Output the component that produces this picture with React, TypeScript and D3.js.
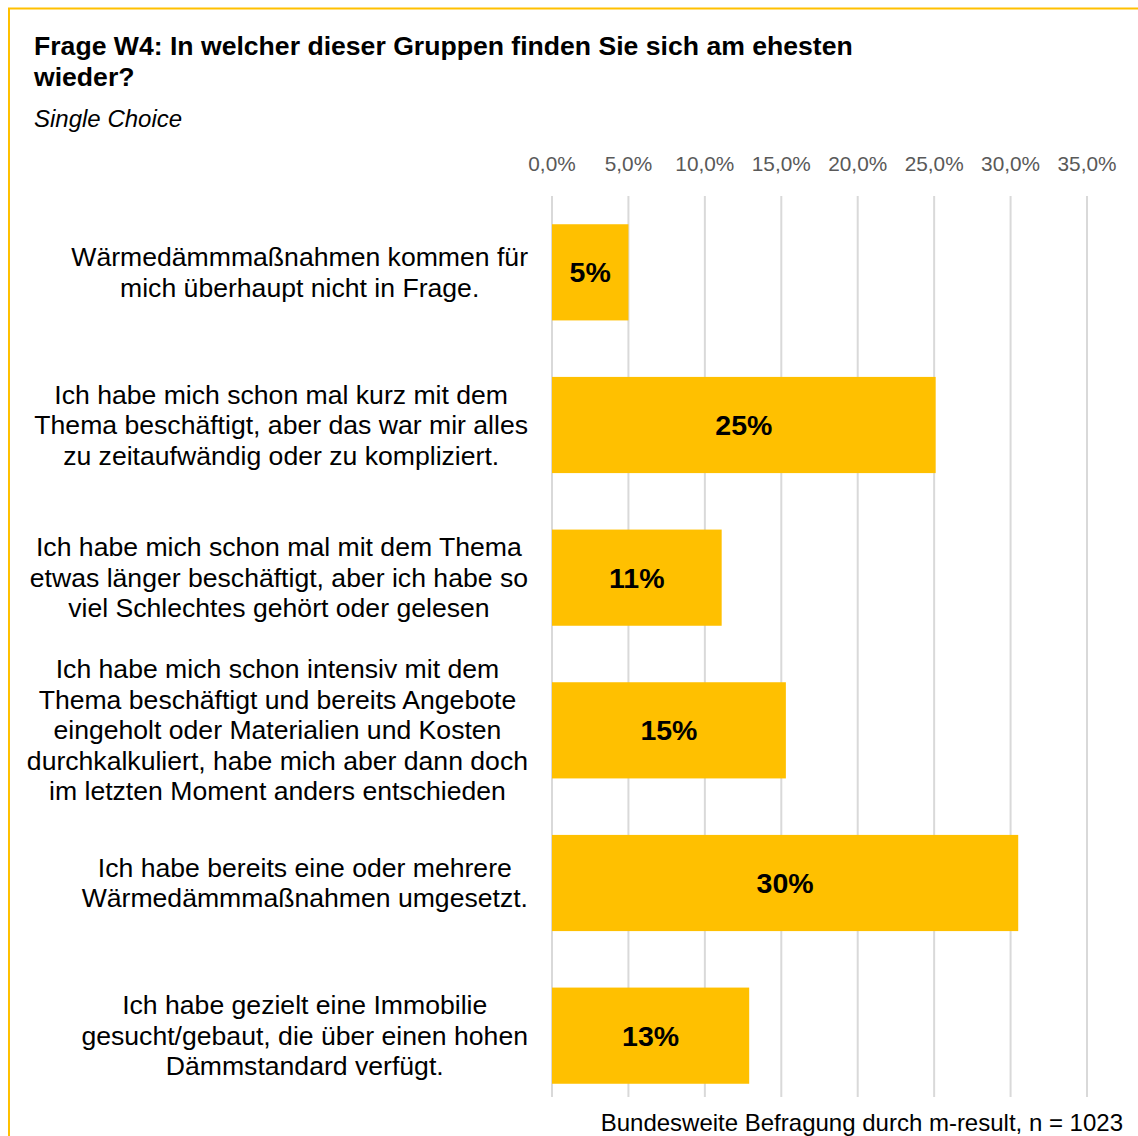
import React from "react";
import * as d3 from "d3";

const categories: string[][] = [
  ["Wärmedämmmaßnahmen kommen für", "mich überhaupt nicht in Frage."],
  ["Ich habe mich schon mal kurz mit dem", "Thema beschäftigt, aber das war mir alles", "zu zeitaufwändig oder zu kompliziert."],
  ["Ich habe mich schon mal mit dem Thema", "etwas länger beschäftigt, aber ich habe so", "viel Schlechtes gehört oder gelesen"],
  ["Ich habe mich schon intensiv mit dem", "Thema beschäftigt und bereits Angebote", "eingeholt oder Materialien und Kosten", "durchkalkuliert, habe mich aber dann doch", "im letzten Moment anders entschieden"],
  ["Ich habe bereits eine oder mehrere", "Wärmedämmmaßnahmen umgesetzt."],
  ["Ich habe gezielt eine Immobilie", "gesucht/gebaut, die über einen hohen", "Dämmstandard verfügt."],
];
const values: number[] = [5.0, 25.1, 11.1, 15.3, 30.5, 12.9];
const valueLabels: string[] = ["5%", "25%", "11%", "15%", "30%", "13%"];
const ticks: number[] = [0, 5, 10, 15, 20, 25, 30, 35];

const FONT = "'Liberation Sans', Arial, sans-serif";
const W = 1138;
const H = 1136;
const LABEL_SIZE = 26.6;

let ctx: CanvasRenderingContext2D | null = null;
function measure(t: string, font: string): number {
  if (!ctx) ctx = document.createElement("canvas").getContext("2d");
  if (!ctx) return t.length * 13;
  ctx.font = font;
  return ctx.measureText(t).width;
}

export default function App() {
  const x = d3.scaleLinear().domain([0, 35]).range([552, 1087]);
  const y = d3
    .scaleBand<number>()
    .domain(d3.range(values.length))
    .range([196, 1112])
    .paddingInner(0.37)
    .paddingOuter(0.185);
  const fmt = (v: number) => v.toFixed(1).replace(".", ",") + "%";
  const lineH = 30.5;
  const labelRight = 528;

  return (
    <svg
      width={W}
      height={H}
      style={{ position: "absolute", left: 0, top: 0, display: "block", background: "#fff" }}
      fontFamily={FONT}
    >
      <rect x={9} y={8.5} width={W + 20} height={H + 20} fill="#fff" stroke="#FFC000" strokeWidth={2} />
      <text x={34} y={55} fontSize={26.6} fontWeight="bold" fill="#000">
        Frage W4: In welcher dieser Gruppen finden Sie sich am ehesten
      </text>
      <text x={34} y={86} fontSize={26.6} fontWeight="bold" fill="#000">
        wieder?
      </text>
      <text x={34} y={127} fontSize={24} fontStyle="italic" fill="#000">
        Single Choice
      </text>

      {ticks.map((t) => (
        <g key={t}>
          <line x1={x(t)} x2={x(t)} y1={196} y2={1097} stroke="#D9D9D9" strokeWidth={2} />
          <text x={x(t)} y={171} fontSize={20.8} fill="#595959" textAnchor="middle">
            {fmt(t)}
          </text>
        </g>
      ))}

      {values.map((v, i) => {
        const y0 = y(i) as number;
        const bw = y.bandwidth();
        const cy = y0 + bw / 2;
        const lines = categories[i];
        const maxW = Math.max(...lines.map((l) => measure(l, `${LABEL_SIZE}px ${FONT}`)));
        const cx = labelRight - maxW / 2;
        return (
          <g key={i}>
            <rect x={x(0)} y={y0} width={x(v) - x(0)} height={bw} fill="#FFC000" />
            <text
              x={(x(0) + x(v)) / 2}
              y={cy + 10}
              fontSize={28.5}
              fontWeight="bold"
              textAnchor="middle"
              fill="#000"
            >
              {valueLabels[i]}
            </text>
            {lines.map((l, j) => (
              <text
                key={j}
                x={cx}
                y={cy + (j - (lines.length - 1) / 2) * lineH + 9}
                fontSize={LABEL_SIZE}
                textAnchor="middle"
                fill="#000"
              >
                {l}
              </text>
            ))}
          </g>
        );
      })}

      <text x={1123} y={1131} fontSize={24} textAnchor="end" fill="#000">
        Bundesweite Befragung durch m-result, n = 1023
      </text>
    </svg>
  );
}
